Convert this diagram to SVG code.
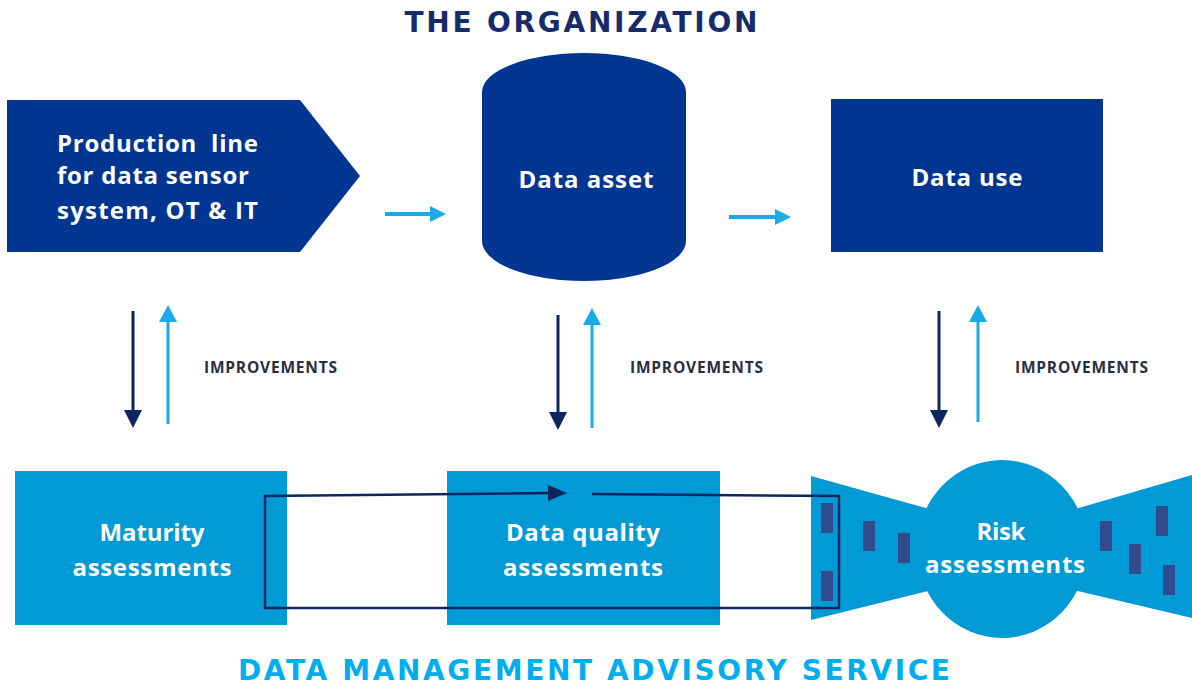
<svg xmlns="http://www.w3.org/2000/svg" width="1192" height="686" viewBox="0 0 1192 686">
  <style>
    .node-text { font-family: "Open Sans", "Noto Sans", "Liberation Sans", sans-serif; font-weight: bold; font-size: 24px; fill: #ffffff; }
    .title { font-family: "DejaVu Sans", Verdana, sans-serif; font-weight: bold; }
    .improve { font-family: "Open Sans", "Noto Sans", "Liberation Sans", sans-serif; font-weight: bold; font-size: 15.5px; fill: #2b2d42; }
    .dark-fill { fill: #003591; }
    .light-fill { fill: #009bd6; }
    .marker-fill { fill: #324b8f; }
    .flow { stroke: #1aaae6; stroke-width: 4; fill: none; }
    .down { stroke: #0f2560; stroke-width: 3; fill: none; }
    .up { stroke: #1aaae6; stroke-width: 3; fill: none; }
    .loop { stroke: #0f2560; stroke-width: 2.5; fill: none; }
  </style>

  <!-- headings -->
  <text class="title" x="581" y="32" font-size="28" fill="#172b6b" text-anchor="middle" textLength="353" lengthAdjust="spacing">THE ORGANIZATION</text>
  <text class="title" x="594" y="680" font-size="28" fill="#00aeef" text-anchor="middle" textLength="712" lengthAdjust="spacing">DATA MANAGEMENT ADVISORY SERVICE</text>

  <!-- top row -->
  <g id="production-line">
    <polygon class="dark-fill" points="7,100 300,100 360,176 300,252 7,252"/>
    <text class="node-text" x="57" y="152" textLength="201" lengthAdjust="spacing">Production&#160; line</text>
    <text class="node-text" x="57" y="184" textLength="192" lengthAdjust="spacing">for data sensor</text>
    <text class="node-text" x="57" y="219" textLength="201" lengthAdjust="spacing">system, OT &amp; IT</text>
  </g>

  <g id="data-asset">
    <path class="dark-fill" d="M482,92 A102,39 0 0 1 686,92 L686,241 A102,40 0 0 1 482,241 Z"/>
    <text class="node-text" x="586" y="188" text-anchor="middle" textLength="135" lengthAdjust="spacing">Data asset</text>
  </g>

  <g id="data-use">
    <rect class="dark-fill" x="831" y="99" width="272" height="153"/>
    <text class="node-text" x="967" y="186" text-anchor="middle" textLength="111" lengthAdjust="spacing">Data use</text>
  </g>

  <!-- bottom row -->
  <g id="maturity-assessments">
    <rect class="light-fill" x="15" y="471" width="272" height="154"/>
    <text class="node-text" x="152" y="541" text-anchor="middle" textLength="105" lengthAdjust="spacing">Maturity</text>
    <text class="node-text" x="152" y="576" text-anchor="middle" textLength="159" lengthAdjust="spacing">assessments</text>
  </g>

  <g id="data-quality-assessments">
    <rect class="light-fill" x="447" y="471" width="273" height="154"/>
    <text class="node-text" x="583" y="541" text-anchor="middle" textLength="154" lengthAdjust="spacing">Data quality</text>
    <text class="node-text" x="583" y="576" text-anchor="middle" textLength="160" lengthAdjust="spacing">assessments</text>
  </g>

  <g id="risk-assessments">
    <polygon class="light-fill" points="811,476 940,512 940,588 811,620"/>
    <polygon class="light-fill" points="1192,475 1065,512 1065,588 1192,618"/>
    <ellipse class="light-fill" cx="1002" cy="549" rx="85" ry="89"/>
    <rect class="marker-fill" x="821" y="503" width="12" height="30"/>
    <rect class="marker-fill" x="821" y="571" width="12" height="30"/>
    <rect class="marker-fill" x="863" y="521" width="12" height="30"/>
    <rect class="marker-fill" x="898" y="533" width="12" height="30"/>
    <rect class="marker-fill" x="1100" y="521" width="12" height="30"/>
    <rect class="marker-fill" x="1156" y="506" width="12" height="30"/>
    <rect class="marker-fill" x="1129" y="544" width="12" height="30"/>
    <rect class="marker-fill" x="1163" y="565" width="12" height="30"/>
    <text class="node-text" x="1001" y="540" text-anchor="middle" textLength="49" lengthAdjust="spacing">Risk</text>
    <text class="node-text" x="1005" y="573" text-anchor="middle" textLength="160" lengthAdjust="spacing">assessments</text>
  </g>

  <!-- connectors -->
  <g id="connectors">
    <!-- horizontal flow along the organization -->
    <line class="flow" x1="385" y1="214" x2="432" y2="214"/>
    <polygon fill="#1aaae6" points="430,206 446,214 430,222"/>
    <line class="flow" x1="729" y1="217" x2="777" y2="217"/>
    <polygon fill="#1aaae6" points="775,209 791,217 775,225"/>

    <!-- assessment / improvement pairs -->
    <line class="down" x1="133" y1="311" x2="133" y2="412"/>
    <polygon fill="#0f2560" points="124,410 142,410 133,428"/>
    <line class="up" x1="168" y1="424" x2="168" y2="320"/>
    <polygon fill="#1aaae6" points="159,322 177,322 168,305"/>

    <line class="down" x1="558" y1="315" x2="558" y2="414"/>
    <polygon fill="#0f2560" points="549,412 567,412 558,430"/>
    <line class="up" x1="592" y1="428" x2="592" y2="323"/>
    <polygon fill="#1aaae6" points="583,325 601,325 592,308"/>

    <line class="down" x1="939" y1="311" x2="939" y2="412"/>
    <polygon fill="#0f2560" points="930,410 948,410 939,428"/>
    <line class="up" x1="978" y1="422" x2="978" y2="320"/>
    <polygon fill="#1aaae6" points="969,322 987,322 978,305"/>

    <!-- service loop across the assessments -->
    <polyline class="loop" points="592,494 839,496 839,608 265,608 265,496 550,493"/>
    <polygon fill="#0f2560" points="548,485 567,493 548,501"/>
  </g>

  <g id="labels">
    <text class="improve" x="204" y="373" textLength="133" lengthAdjust="spacing">IMPROVEMENTS</text>
    <text class="improve" x="630" y="373" textLength="133" lengthAdjust="spacing">IMPROVEMENTS</text>
    <text class="improve" x="1015" y="373" textLength="133" lengthAdjust="spacing">IMPROVEMENTS</text>
  </g>
</svg>
